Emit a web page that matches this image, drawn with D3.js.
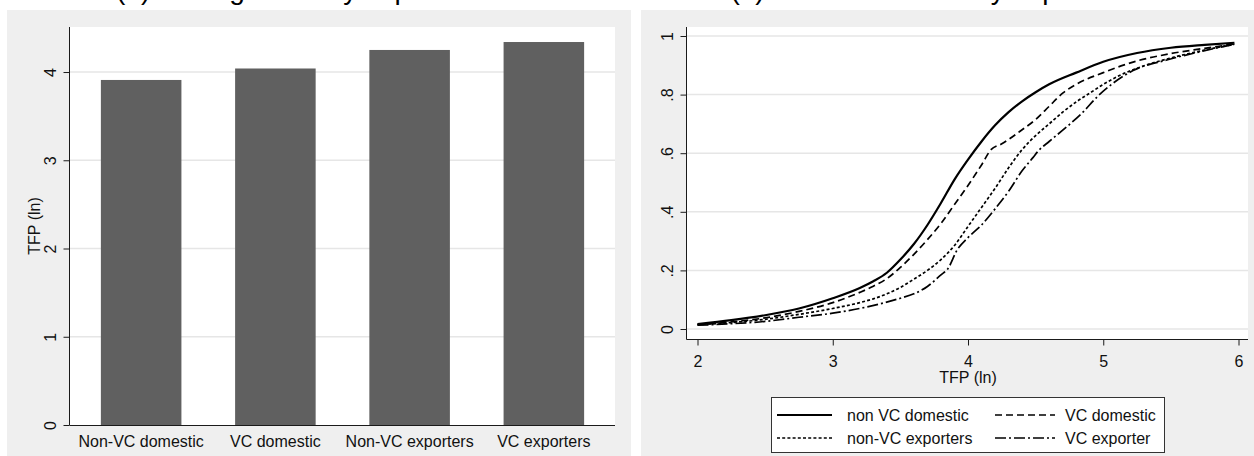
<!DOCTYPE html>
<html>
<head>
<meta charset="utf-8">
<script src="https://cdn.jsdelivr.net/npm/d3@7"></script>
<style>
  body { margin: 0; background: #ffffff; }
  svg { display: block; font-family: "Liberation Sans", Arial, sans-serif; }
</style>
</head>
<body>
<svg id="chart" width="1254" height="456"></svg>
<script>
// ---- data: panel (a) mean TFP by group ----
const groups = ["Non-VC domestic", "VC domestic", "Non-VC exporters", "VC exporters"];
const meanTFP = [3.91, 4.04, 4.25, 4.34];
const barTicks = [0, 1, 2, 3, 4];

// ---- data: panel (b) cumulative distribution of TFP, [TFP (ln), share] ----
const nonVCDomestic = [
  [2.0, .017], [2.25, .03], [2.5, .047], [2.75, .07], [3.0, .105], [3.2, .14], [3.3, .163],
  [3.4, .192], [3.5, .237], [3.6, .29], [3.7, .355], [3.8, .43], [3.9, .51], [4.0, .578],
  [4.1, .64], [4.2, .695], [4.3, .74], [4.4, .777], [4.5, .808], [4.6, .835], [4.8, .875],
  [5.0, .912], [5.25, .942], [5.5, .96], [5.75, .97], [5.97, .977]
];
const vcDomestic = [
  [2.0, .015], [2.25, .024], [2.5, .038], [2.75, .06], [3.0, .09], [3.2, .125], [3.3, .146],
  [3.4, .172], [3.5, .21], [3.6, .255], [3.7, .305], [3.8, .36], [3.9, .425], [4.0, .49],
  [4.1, .56], [4.17, .612], [4.25, .632], [4.4, .68], [4.5, .715], [4.6, .76], [4.7, .805],
  [4.8, .835], [5.0, .875], [5.25, .915], [5.5, .94], [5.75, .958], [5.97, .973]
];
const nonVCExporters = [
  [2.0, .015], [2.25, .022], [2.5, .033], [2.75, .05], [3.0, .07], [3.2, .09], [3.3, .103],
  [3.4, .12], [3.5, .142], [3.6, .17], [3.7, .2], [3.8, .237], [3.9, .285], [4.0, .35],
  [4.1, .415], [4.2, .48], [4.3, .55], [4.4, .612], [4.5, .66], [4.6, .70], [4.7, .74],
  [4.8, .775], [4.9, .805], [5.0, .835], [5.12, .865], [5.25, .89], [5.5, .925], [5.75, .952],
  [5.97, .972]
];
const vcExporter = [
  [2.0, .013], [2.25, .018], [2.5, .026], [2.75, .04], [3.0, .054], [3.25, .075], [3.5, .105],
  [3.6, .12], [3.7, .145], [3.8, .185], [3.85, .205], [3.92, .27], [4.0, .312], [4.1, .355],
  [4.2, .41], [4.3, .47], [4.4, .54], [4.48, .585], [4.52, .608], [4.6, .64], [4.73, .69],
  [4.85, .74], [4.95, .79], [5.07, .838], [5.22, .882], [5.47, .918], [5.75, .95], [5.97, .972]
];
const seriesNames = ["non VC domestic", "VC domestic", "non-VC exporters", "VC exporter"];
const cdfTicksX = [2, 3, 4, 5, 6];
const cdfTicksY = [0, .2, .4, .6, .8, 1];
const cdfTickLabels = ["0", ".2", ".4", ".6", ".8", "1"];

// ---- styling ----
const panelFill = "#efefef";
const gridColor = "#e6e6e6";
const axisColor = "#1a1a1a";
const barColor = "#606060";
const fontSize = 16;
const lineStyles = [
  { dash: null, width: 2.2 },
  { dash: "7,4", width: 1.7 },
  { dash: "3,2.2", width: 1.7 },
  { dash: "11,3,2,3", width: 1.7 }
];

const svg = d3.select("#chart");

function styleAxis(g) {
  g.select(".domain").remove();
  g.selectAll(".tick line").attr("stroke", axisColor).attr("stroke-width", 1);
  g.selectAll(".tick text").attr("fill", "#111").style("font-size", fontSize + "px")
    .style("font-family", "'Liberation Sans', Arial, sans-serif");
}

// ================= panel (a) =================
const A = { left: 70, right: 615, top: 27, bottom: 425 };
svg.append("rect").attr("x", 7).attr("y", 10).attr("width", 624).attr("height", 446).attr("fill", panelFill);
svg.append("rect").attr("x", A.left).attr("y", A.top).attr("width", A.right - A.left)
  .attr("height", A.bottom - A.top).attr("fill", "#fff");

const yA = d3.scaleLinear().domain([0, 4.5]).range([A.bottom, A.top + 0.9]);
const xA = d3.scaleBand().domain(groups).range([A.left, A.right]).paddingInner(0.4).paddingOuter(0.23);

svg.append("g").selectAll("line").data(barTicks.filter(d => d > 0)).join("line")
  .attr("x1", A.left).attr("x2", A.right)
  .attr("y1", d => yA(d)).attr("y2", d => yA(d))
  .attr("stroke", gridColor).attr("stroke-width", 1.5);

svg.append("g").selectAll("rect").data(groups).join("rect")
  .attr("x", d => xA(d)).attr("width", xA.bandwidth())
  .attr("y", (d, i) => yA(meanTFP[i])).attr("height", (d, i) => yA(0) - yA(meanTFP[i]))
  .attr("fill", barColor);

const yAxisA = svg.append("g").attr("transform", `translate(${A.left - 0.5},0)`)
  .call(d3.axisLeft(yA).tickValues(barTicks).tickSize(6).tickFormat(d3.format("d")));
styleAxis(yAxisA);
yAxisA.selectAll(".tick text").attr("transform", "rotate(-90)").attr("x", 0).attr("y", -14)
  .attr("dy", 0).attr("text-anchor", "middle");

svg.append("line").attr("x1", A.left - 0.5).attr("x2", A.left - 0.5).attr("y1", A.top).attr("y2", A.bottom)
  .attr("stroke", axisColor);
svg.append("line").attr("x1", A.left - 0.5).attr("x2", A.right).attr("y1", A.bottom + 0.5).attr("y2", A.bottom + 0.5)
  .attr("stroke", axisColor);

const xAxisA = svg.append("g").attr("transform", `translate(0,${A.bottom})`)
  .call(d3.axisBottom(xA).tickSize(0).tickPadding(0));
styleAxis(xAxisA);
xAxisA.selectAll(".tick text").attr("y", 22).attr("dy", 0);

svg.append("text").attr("transform", `translate(40,${(A.top + A.bottom) / 2}) rotate(-90)`)
  .attr("text-anchor", "middle").style("font-size", fontSize + "px").attr("fill", "#111")
  .text("TFP (ln)");

svg.append("text").attr("x", (A.left + A.right) / 2).attr("y", -1)
  .attr("text-anchor", "middle").style("font-size", "28px").attr("fill", "#000")
  .text("(a) Average TFP by exporter and VC");

// ================= panel (b) =================
const B = { left: 687, right: 1248, top: 27, bottom: 339 };
svg.append("rect").attr("x", 641).attr("y", 10).attr("width", 613).attr("height", 446).attr("fill", panelFill);
svg.append("rect").attr("x", B.left).attr("y", B.top).attr("width", B.right - B.left)
  .attr("height", B.bottom - B.top).attr("fill", "#fff");

const xB = d3.scaleLinear().domain([2, 6]).range([697.5, 1238.5]);
const yB = d3.scaleLinear().domain([0, 1]).range([329, 36]);

svg.append("g").selectAll("line").data(cdfTicksY).join("line")
  .attr("x1", B.left).attr("x2", B.right)
  .attr("y1", d => yB(d)).attr("y2", d => yB(d))
  .attr("stroke", gridColor).attr("stroke-width", 1.5);

const yAxisB = svg.append("g").attr("transform", `translate(${B.left - 0.5},0)`)
  .call(d3.axisLeft(yB).tickValues(cdfTicksY).tickSize(6).tickFormat((d, i) => cdfTickLabels[i]));
styleAxis(yAxisB);
yAxisB.selectAll(".tick text").attr("transform", "rotate(-90)").attr("x", 0).attr("y", -14)
  .attr("dy", 0).attr("text-anchor", "middle");

const xAxisB = svg.append("g").attr("transform", `translate(0,${B.bottom + 0.5})`)
  .call(d3.axisBottom(xB).tickValues(cdfTicksX).tickSize(6).tickFormat(d3.format("d")));
styleAxis(xAxisB);
xAxisB.selectAll(".tick text").attr("y", 27).attr("dy", 0);

svg.append("line").attr("x1", B.left - 0.5).attr("x2", B.left - 0.5).attr("y1", B.top).attr("y2", B.bottom + 0.5)
  .attr("stroke", axisColor);
svg.append("line").attr("x1", B.left - 0.5).attr("x2", B.right).attr("y1", B.bottom + 0.5).attr("y2", B.bottom + 0.5)
  .attr("stroke", axisColor);

svg.append("text").attr("x", xB(4)).attr("y", 383)
  .attr("text-anchor", "middle").style("font-size", fontSize + "px").attr("fill", "#111")
  .text("TFP (ln)");

const line = d3.line().x(d => xB(d[0])).y(d => yB(d[1])).curve(d3.curveMonotoneX);
const cdfSeries = [nonVCDomestic, vcDomestic, nonVCExporters, vcExporter];
svg.append("g").selectAll("path").data(cdfSeries).join("path")
  .attr("d", line).attr("fill", "none").attr("stroke", "#000")
  .attr("stroke-width", (d, i) => lineStyles[i].width)
  .attr("stroke-dasharray", (d, i) => lineStyles[i].dash)
  .attr("stroke-linejoin", "round");

// legend: two columns, two rows
const leg = svg.append("g");
leg.append("rect").attr("x", 771.5).attr("y", 397.5).attr("width", 393).attr("height", 55)
  .attr("fill", "#fff").attr("stroke", "#333").attr("stroke-width", 1);
const legPos = [
  { x1: 777, x2: 832, tx: 847, y: 415 },
  { x1: 995, x2: 1055, tx: 1065, y: 415 },
  { x1: 777, x2: 832, tx: 847, y: 438 },
  { x1: 995, x2: 1055, tx: 1065, y: 438 }
];
seriesNames.forEach((name, i) => {
  const p = legPos[i];
  leg.append("line").attr("x1", p.x1).attr("x2", p.x2).attr("y1", p.y).attr("y2", p.y)
    .attr("stroke", "#000").attr("stroke-width", lineStyles[i].width)
    .attr("stroke-dasharray", lineStyles[i].dash);
  leg.append("text").attr("x", p.tx).attr("y", p.y + 5.5).style("font-size", fontSize + "px")
    .attr("fill", "#111").text(name);
});

svg.append("text").attr("x", (B.left + B.right) / 2 + 6).attr("y", -1)
  .attr("text-anchor", "middle").style("font-size", "28px").attr("fill", "#000")
  .text("(b) TFP distribution by exporter and VC");
</script>
</body>
</html>
